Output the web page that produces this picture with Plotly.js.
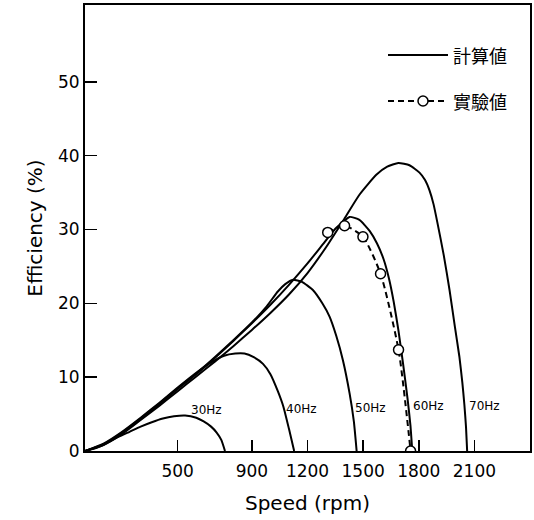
<!DOCTYPE html>
<html>
<head>
<meta charset="utf-8">
<script src="https://cdn.plot.ly/plotly-3.0.1.min.js"></script>
<style>
html,body{margin:0;padding:0;background:#fff;}
#chart{width:534px;height:520px;}
</style>
</head>
<body>
<div id="chart"></div>
<script>
// ---- data ----
const rpm30 = [0, 60, 120, 180, 240, 300, 360, 420, 480, 540, 600, 640, 680, 710, 735, 755];
const eff30 = [0, 0.4, 1.1, 1.9, 2.6, 3.3, 3.9, 4.4, 4.7, 4.8, 4.5, 4.0, 3.3, 2.5, 1.5, 0];

const rpm40 = [0, 100, 200, 300, 400, 500, 600, 680, 750, 810, 860, 910, 960, 1000, 1040, 1070, 1100, 1128];
const eff40 = [0, 1.0, 2.6, 4.5, 6.5, 8.6, 10.6, 12.0, 12.9, 13.2, 13.2, 12.7, 11.8, 10.4, 8.1, 6.0, 3.0, 0];

const rpm50 = [0, 100, 200, 300, 400, 500, 600, 700, 800, 900, 980, 1040, 1080, 1122, 1170, 1229, 1280, 1319, 1355, 1391, 1427, 1450, 1465];
const eff50 = [0, 0.9, 2.5, 4.4, 6.4, 8.5, 10.5, 12.7, 15.0, 17.4, 19.6, 21.6, 22.6, 23.2, 22.9, 21.8, 20.0, 18.2, 15.6, 12.3, 7.8, 4.0, 0];

const rpm60 = [0, 100, 200, 300, 400, 500, 600, 700, 800, 900, 1000, 1100, 1200, 1280, 1350, 1427, 1480, 1535, 1575, 1610, 1640, 1665, 1690, 1715, 1740, 1755, 1765];
const eff60 = [0, 0.9, 2.4, 4.3, 6.3, 8.4, 10.4, 12.6, 14.9, 17.3, 19.8, 22.5, 25.4, 27.9, 30.1, 31.7, 31.3, 29.8, 28.1, 26.0, 23.3, 20.2, 16.4, 11.9, 7.0, 3.5, 0];

const rpm70 = [0, 100, 200, 300, 400, 500, 600, 700, 800, 900, 1000, 1100, 1200, 1300, 1400, 1480, 1571, 1630, 1690, 1750, 1804, 1834, 1858, 1880, 1900, 1935, 1966, 1995, 2019, 2035, 2046, 2055, 2061];
const eff70 = [0, 0.8, 2.3, 4.2, 6.1, 8.1, 10.1, 12.1, 14.2, 16.4, 18.7, 21.2, 24.1, 27.6, 31.5, 34.7, 37.4, 38.5, 39.0, 38.7, 37.7, 36.7, 35.3, 33.4, 31.0, 26.5, 21.8, 16.8, 12.8, 9.3, 6.3, 3.2, 0];

// experimental (60 Hz)
const rpmExp = [1309, 1400, 1499, 1594, 1691, 1756];
const effExp = [29.6, 30.5, 29.0, 24.0, 13.7, 0];

const xTickVals = [500, 900, 1200, 1500, 1800, 2100];
const xTickText = ['500', '900', '1200', '1500', '1800', '2100'];
const yTickVals = [0, 10, 20, 30, 40, 50];
const yTickText = ['0', '10', '20', '30', '40', '50'];

const freqLabels = ['30Hz', '40Hz', '50Hz', '60Hz', '70Hz'];
const legendLabels = ['計算値', '實驗値'];
const xTitle = 'Speed (rpm)';
const yTitle = 'Efficiency (%)';

// ---- traces ----
const calc = [[rpm30, eff30], [rpm40, eff40], [rpm50, eff50], [rpm60, eff60], [rpm70, eff70]];
const traces = calc.map((d, i) => ({
  x: d[0], y: d[1], type: 'scatter', mode: 'lines',
  line: {color: '#000', width: 2, shape: 'spline', smoothing: 0.5},
  name: freqLabels[i], showlegend: false, hoverinfo: 'skip'
}));
traces.push({
  x: rpmExp, y: effExp, type: 'scatter', mode: 'lines+markers',
  line: {color: '#000', width: 2, dash: '6px,4px', shape: 'spline', smoothing: 0.6},
  marker: {symbol: 'circle', size: 10, color: '#fff', line: {color: '#000', width: 1.5}},
  name: legendLabels[1], showlegend: false, hoverinfo: 'skip'
});

// ---- label positions ----
const labelPos = [[657, 5.55], [1169, 5.7], [1540, 5.8], [1852, 6.1], [2154, 6.1]];
const annotations = freqLabels.map((t, i) => ({
  x: labelPos[i][0], y: labelPos[i][1], xref: 'x', yref: 'y', text: t, showarrow: false,
  font: {family: 'DejaVu Sans, Arial, sans-serif', size: 12, color: '#000'},
  xanchor: 'center', yanchor: 'middle'
}));

const W = 534, H = 520, mL = 85, mR = 4, mT = 5, mB = 69;
const pw = W - mL - mR, ph = H - mT - mB;
function px(x) { return (x - mL) / pw; }
function py(y) { return (H - mB - y) / ph; }

const cjkFont = {family: 'Noto Sans CJK JP, sans-serif', size: 18, color: '#000'};
annotations.push({x: px(451), y: py(55), xref: 'paper', yref: 'paper', text: legendLabels[0],
  showarrow: false, xanchor: 'left', yanchor: 'middle', font: cjkFont});
annotations.push({x: px(451), y: py(101), xref: 'paper', yref: 'paper', text: legendLabels[1],
  showarrow: false, xanchor: 'left', yanchor: 'middle', font: cjkFont});

const shapes = [
  {type: 'line', xref: 'paper', yref: 'paper', x0: px(388), x1: px(448), y0: py(55), y1: py(55),
   line: {color: '#000', width: 2}},
  {type: 'line', xref: 'paper', yref: 'paper', x0: px(388), x1: px(448), y0: py(101), y1: py(101),
   line: {color: '#000', width: 2, dash: '6px,4px'}},
  {type: 'circle', xref: 'paper', yref: 'paper', x0: px(418), x1: px(428), y0: py(96), y1: py(106),
   fillcolor: '#fff', line: {color: '#000', width: 1.5}}
];

const axisFont = {family: 'DejaVu Sans, Arial, sans-serif', size: 17, color: '#000'};
const titleFont = {family: 'DejaVu Sans, Arial, sans-serif', size: 20, color: '#000'};
const layout = {
  width: W, height: H,
  margin: {l: mL, r: mR, t: mT, b: mB, pad: 0},
  paper_bgcolor: '#fff', plot_bgcolor: '#fff',
  showlegend: false,
  xaxis: {
    range: [0, 2400], tickmode: 'array', tickvals: xTickVals, ticktext: xTickText,
    ticks: 'inside', ticklen: 11, tickwidth: 1.5, tickcolor: '#000',
    showline: true, linewidth: 2, linecolor: '#000', mirror: true,
    showgrid: false, zeroline: false, tickfont: axisFont, ticklabelstandoff: 4,
    title: {text: xTitle, font: titleFont, standoff: 16},
    automargin: false, fixedrange: true
  },
  yaxis: {
    range: [0, 60.4], tickmode: 'array', tickvals: yTickVals, ticktext: yTickText,
    ticks: 'inside', ticklen: 12, tickwidth: 1.5, tickcolor: '#000',
    showline: true, linewidth: 2, linecolor: '#000', mirror: true,
    showgrid: false, zeroline: false, tickfont: axisFont,
    title: {text: yTitle, font: titleFont, standoff: 10},
    automargin: false, fixedrange: true
  },
  annotations: annotations,
  shapes: shapes
};

Plotly.newPlot('chart', traces, layout, {staticPlot: true, displayModeBar: false});
</script>
</body>
</html>
